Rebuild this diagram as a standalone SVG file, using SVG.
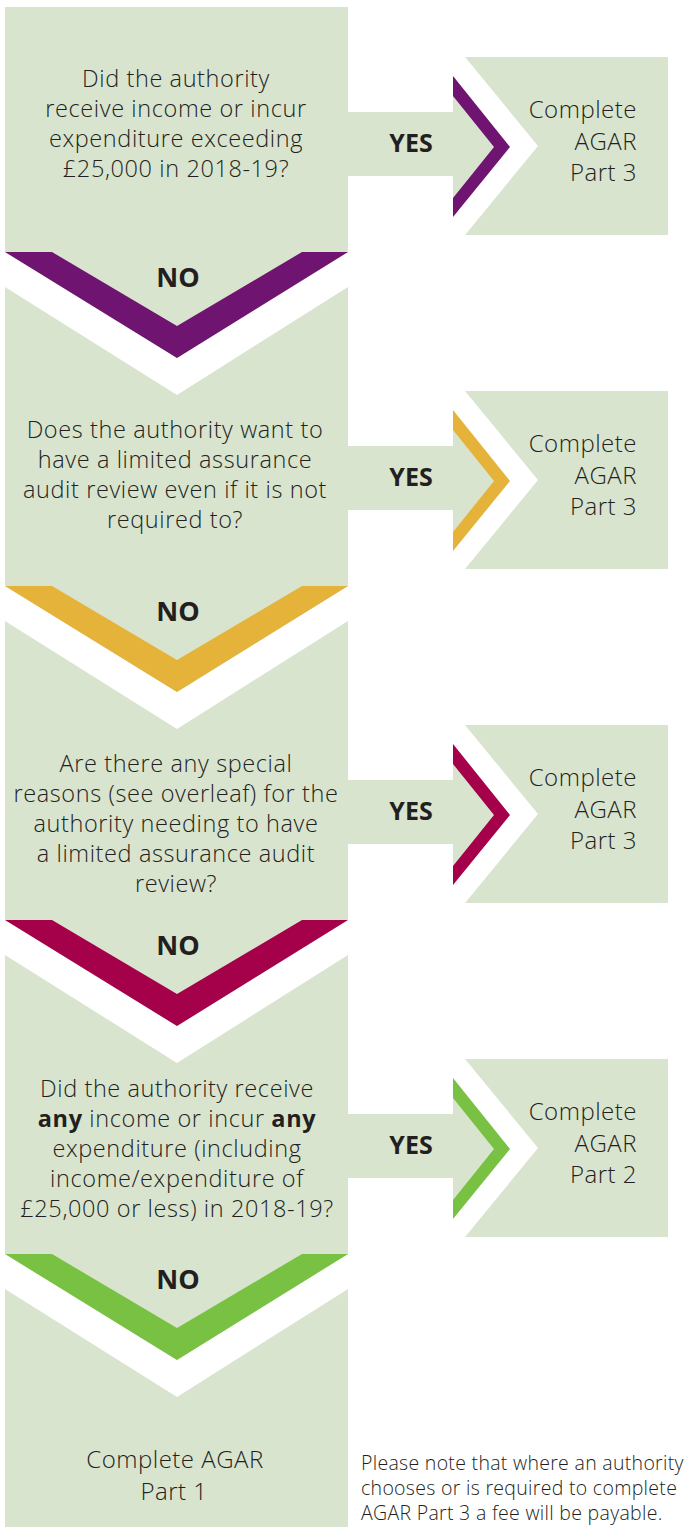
<svg xmlns="http://www.w3.org/2000/svg" xmlns:xlink="http://www.w3.org/1999/xlink" width="686" height="1527" viewBox="0 0 686 1527">
  <style>
    .box { fill: #d9e4cf; }
    .q { font-family: "Open Sans", "Liberation Sans", sans-serif; font-weight: 300; font-size: 23.5px; letter-spacing: 0.6px; fill: #231f20; text-anchor: middle; }
    .res { font-family: "Open Sans", "Liberation Sans", sans-serif; font-weight: 300; font-size: 24px; letter-spacing: 0.5px; fill: #231f20; text-anchor: end; }
    .end { font-family: "Open Sans", "Liberation Sans", sans-serif; font-weight: 300; font-size: 24px; letter-spacing: 0.5px; fill: #231f20; text-anchor: middle; }
    .lbl { font-family: "Open Sans", "Liberation Sans", sans-serif; font-weight: bold; fill: #231f20; text-anchor: middle; }
    .no { font-size: 27px; }
    .yes { font-size: 25px; }
    .b { font-weight: bold; }
    .note { font-family: "Open Sans", "Liberation Sans", sans-serif; font-weight: 300; font-size: 19.5px; letter-spacing: 0.3px; fill: #231f20; }
  </style>
  <defs>
    <!-- downward "NO" chevron band under a question box -->
    <path id="noBand" d="M5 252 L52 252 L177 326 L302 252 L348 252 L177 358 Z"/>
    <!-- "YES" arrow: shaft with filled head, and its coloured chevron band -->
    <path id="yesShaft" class="box" d="M344 112 L453 112 L453 95 L496 147 L453 199 L453 176 L344 176 Z"/>
    <path id="yesBand" d="M453 76 L510 147 L453 217 L453 198 L494 147 L453 96 Z"/>
    <!-- result panel with notched left side -->
    <path id="resultBox" class="box" d="M465 57 L668 57 L668 235 L465 235 L538 146 Z"/>
  </defs>

  <!-- question boxes -->
  <g id="q1">
    <path class="box" d="M5 7 L348 7 L348 252 L177 358 L5 252 Z"/>
    <text class="q" x="176" y="86.5">Did the authority</text>
    <text class="q" x="176" y="116.8">receive income or incur</text>
    <text class="q" x="176" y="147.1">expenditure exceeding</text>
    <text class="q" x="176" y="177.4">£25,000 in 2018-19?</text>
  </g>
  <g id="q2">
    <path class="box" d="M5 287 L177 395 L348 287 L348 586 L177 692 L5 586 Z"/>
    <text class="q" x="175" y="437.5">Does the authority want to</text>
    <text class="q" x="175" y="467.8">have a limited assurance</text>
    <text class="q" x="175" y="498.1">audit review even if it is not</text>
    <text class="q" x="175" y="528.4">required to?</text>
  </g>
  <g id="q3">
    <path class="box" d="M5 621 L177 729 L348 621 L348 920 L177 1026 L5 920 Z"/>
    <text class="q" x="176" y="771.5">Are there any special</text>
    <text class="q" x="176" y="801.7">reasons (see overleaf) for the</text>
    <text class="q" x="176" y="831.9">authority needing to have</text>
    <text class="q" x="176" y="862.1">a limited assurance audit</text>
    <text class="q" x="176" y="892.3">review?</text>
  </g>
  <g id="q4">
    <path class="box" d="M5 955 L177 1063 L348 955 L348 1254 L177 1360 L5 1254 Z"/>
    <text class="q" x="177" y="1096.5">Did the authority receive</text>
    <text class="q" x="177" y="1126.7"><tspan class="b">any</tspan> income or incur <tspan class="b">any</tspan></text>
    <text class="q" x="177" y="1156.9">expenditure (including</text>
    <text class="q" x="177" y="1187.1">income/expenditure of</text>
    <text class="q" x="177" y="1217.3">£25,000 or less) in 2018-19?</text>
  </g>
  <g id="part1">
    <path class="box" d="M5 1289 L177 1397 L348 1289 L348 1527 L5 1527 Z"/>
    <text class="end" x="175" y="1468.3">Complete AGAR</text>
    <text class="end" x="174" y="1500">Part 1</text>
  </g>

  <!-- result panels -->
  <g id="r1">
    <use xlink:href="#resultBox"/>
    <text class="res" x="637" y="118.3">Complete</text>
    <text class="res" x="637" y="150">AGAR</text>
    <text class="res" x="637" y="180.7">Part 3</text>
  </g>
  <g id="r2" transform="translate(0 334)">
    <use xlink:href="#resultBox"/>
    <text class="res" x="637" y="118.3">Complete</text>
    <text class="res" x="637" y="150">AGAR</text>
    <text class="res" x="637" y="180.7">Part 3</text>
  </g>
  <g id="r3" transform="translate(0 668)">
    <use xlink:href="#resultBox"/>
    <text class="res" x="637" y="118.3">Complete</text>
    <text class="res" x="637" y="150">AGAR</text>
    <text class="res" x="637" y="180.7">Part 3</text>
  </g>
  <g id="r4" transform="translate(0 1002)">
    <use xlink:href="#resultBox"/>
    <text class="res" x="637" y="118.3">Complete</text>
    <text class="res" x="637" y="150">AGAR</text>
    <text class="res" x="637" y="180.7">Part 2</text>
  </g>

  <!-- connectors: NO chevrons and YES arrows -->
  <g id="connectors">
    <g id="no1">
      <use xlink:href="#noBand" fill="#6f1470"/>
      <text class="lbl no" x="178" y="286.7">NO</text>
    </g>
    <g id="no2" transform="translate(0 334)">
      <use xlink:href="#noBand" fill="#e5b33a"/>
      <text class="lbl no" x="178" y="286.7">NO</text>
    </g>
    <g id="no3" transform="translate(0 668)">
      <use xlink:href="#noBand" fill="#a5004a"/>
      <text class="lbl no" x="178" y="286.7">NO</text>
    </g>
    <g id="no4" transform="translate(0 1002)">
      <use xlink:href="#noBand" fill="#79c143"/>
      <text class="lbl no" x="178" y="286.7">NO</text>
    </g>

    <g id="yes1">
      <use xlink:href="#yesShaft"/>
      <use xlink:href="#yesBand" fill="#6f1470"/>
      <text class="lbl yes" x="411" y="151.7">YES</text>
    </g>
    <g id="yes2" transform="translate(0 334)">
      <use xlink:href="#yesShaft"/>
      <use xlink:href="#yesBand" fill="#e5b33a"/>
      <text class="lbl yes" x="411" y="151.7">YES</text>
    </g>
    <g id="yes3" transform="translate(0 668)">
      <use xlink:href="#yesShaft"/>
      <use xlink:href="#yesBand" fill="#a5004a"/>
      <text class="lbl yes" x="411" y="151.7">YES</text>
    </g>
    <g id="yes4" transform="translate(0 1002)">
      <use xlink:href="#yesShaft"/>
      <use xlink:href="#yesBand" fill="#79c143"/>
      <text class="lbl yes" x="411" y="151.7">YES</text>
    </g>
  </g>

  <!-- footnote -->
  <g id="note">
    <text class="note" x="361" y="1470">Please note that where an authority</text>
    <text class="note" x="361" y="1495">chooses or is required to complete</text>
    <text class="note" x="361" y="1520">AGAR Part 3 a fee will be payable.</text>
  </g>
</svg>
